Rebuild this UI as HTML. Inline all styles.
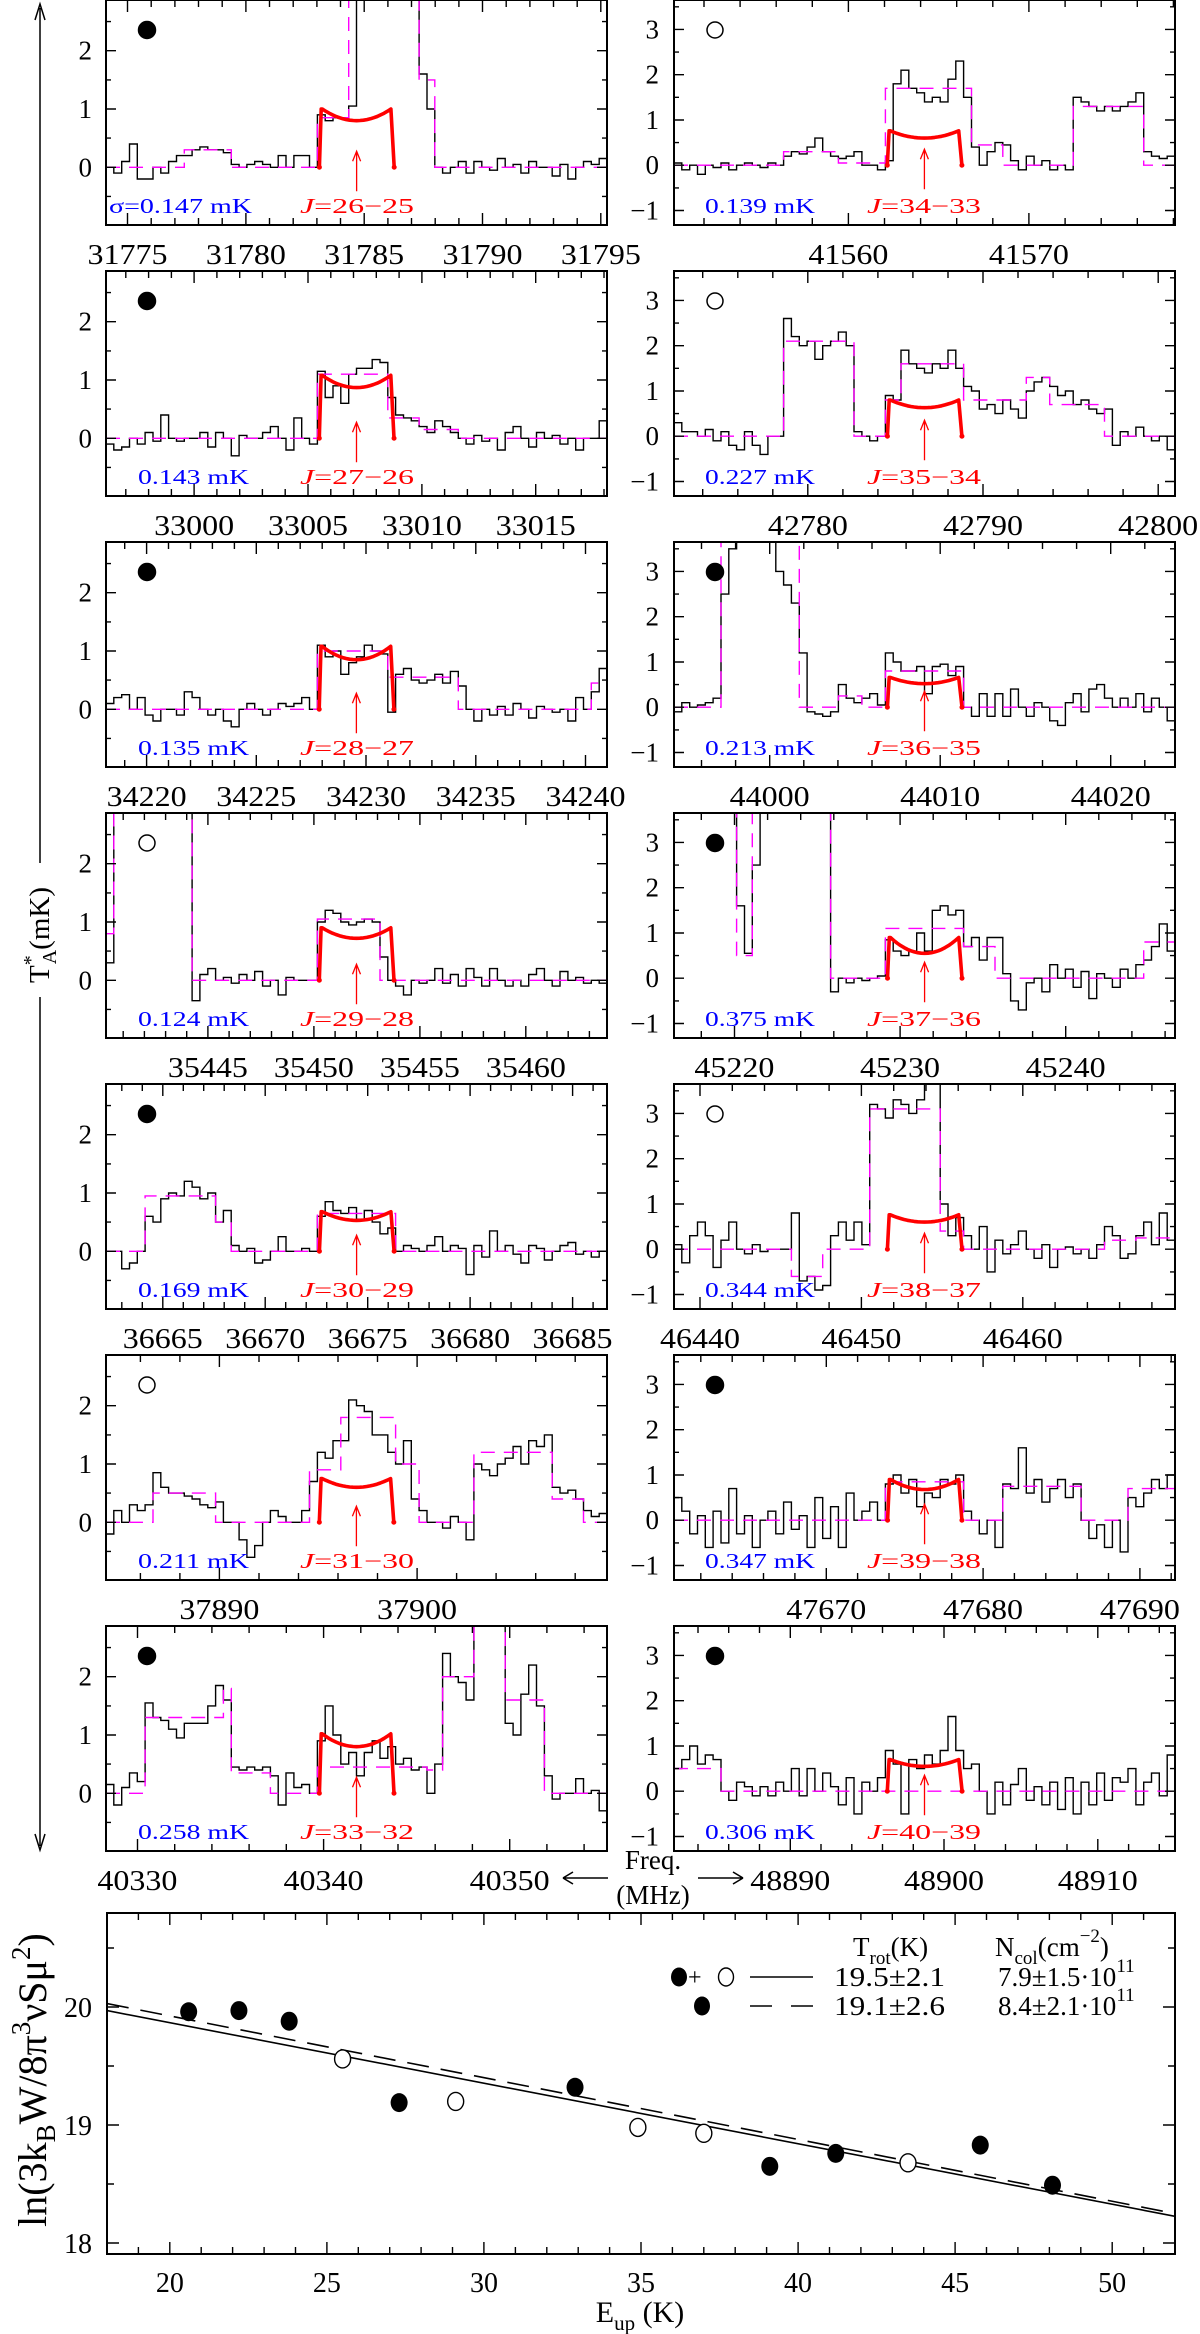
<!DOCTYPE html>
<html><head><meta charset="utf-8"><title>Spectra and rotational diagram</title>
<style>
html,body{margin:0;padding:0;background:#fff;}
svg{display:block;font-family:"Liberation Serif","DejaVu Serif",serif;}
</style></head>
<body>
<svg id="chart" xmlns="http://www.w3.org/2000/svg" width="1200" height="2334" viewBox="0 0 1200 2334">
<rect x="0" y="0" width="1200" height="2334" fill="#fff"/>
</svg>
<script>
// ---------- spectra data (panels L1..L7 then R1..R7) ----------
const panelJ = ["26\u221225","27\u221226","28\u221227","29\u221228","30\u221229","31\u221230","33\u221232",
                "34\u221233","35\u221234","36\u221235","37\u221236","38\u221237","39\u221238","40\u221239"];
const panelSigma = ["\u03c3=0.147 mK","0.143 mK","0.135 mK","0.124 mK","0.169 mK","0.211 mK","0.258 mK",
                    "0.139 mK","0.227 mK","0.213 mK","0.375 mK","0.344 mK","0.347 mK","0.306 mK"];
const panelFilled = [true,true,true,false,true,false,true, false,false,true,true,false,true,true];
const freqLo = [31774.09,32996.13,34218.15,35440.19,36662.23,37884.26,40328.31,
                41550.34,42772.36,43994.39,45216.35,46438.39,47660.29,48882.44];
const freqHi = [31795.26,33018.13,34240.98,35463.83,36686.68,37909.61,40355.23,
                41578.09,42800.96,44023.77,45246.60,46469.43,47692.24,48915.02];
const lineFreq = [31784.68,33007.13,34229.56,35452.01,36674.46,37896.93,40341.77,
                  41564.21,42786.66,44009.08,45231.48,46453.91,47676.27,48898.73];
const tickLabels = [[31775,31780,31785,31790,31795],[33000,33005,33010,33015],[34220,34225,34230,34235,34240],
  [35445,35450,35455,35460],[36665,36670,36675,36680,36685],[37890,37900],[40330,40340,40350],
  [41560,41570],[42780,42790,42800],[44000,44010,44020],[45220,45230,45240],[46440,46450,46460],
  [47670,47680,47690],[48890,48900,48910]];
const modelEdge = [1.0,1.08,1.08,0.9,0.68,0.75,1.02, 0.76,0.8,0.66,0.9,0.76,0.9,0.7];
const modelMid  = [0.8,0.87,0.85,0.72,0.53,0.6,0.8, 0.6,0.63,0.52,0.55,0.6,0.68,0.55];
const vHalf = 14.4; // km/s half width of model

const specL1=[0.0,-0.1,0.1,0.4,-0.2,-0.2,0,-0.1,0.1,0.2,0.2,0.3,0.35,0.3,0.3,0.25,0.05,0.0,0.05,0.1,0.05,0.0,0.2,0.0,0.2,0.2,0.0,
 0.9,0.8,0.85,0.85,1.05,3.5,3.5,3.5,3.5,3.5,3.5,3.5,3.5,1.6,1.0,0.0,
 -0.1,0.0,0.1,-0.1,0.1,0.0,-0.05,0.15,0.0,0.05,-0.1,0.1,0.0,0.0,-0.15,0.05,-0.2,0.0,0.1,0.05,0.15];
const specL2=[-0.1,-0.2,-0.15,0.0,-0.1,0.1,-0.05,0.4,0.0,-0.05,0.0,0.0,0.1,-0.15,0.1,0.0,-0.3,0.05,0.0,0.0,0.1,0.2,0.0,-0.2,0.35,0.0,-0.1,
 1.15,0.7,0.9,0.6,1.1,1.2,1.2,1.35,1.3,0.7,
 0.4,0.35,0.3,0.2,0.1,0.3,0.2,0.1,0.0,-0.1,0.05,-0.05,0.0,-0.2,0.1,0.2,0.0,-0.15,0.1,0.0,0.05,-0.1,0.0,-0.2,0.0,0.0,0.3];
const specL3=[0.1,0.2,0.25,0.0,0.2,-0.1,-0.2,0.0,0.0,-0.1,0.3,0.2,0.0,-0.1,0.0,-0.2,-0.3,0.0,0.1,0.0,-0.1,0.0,0.1,0.05,0.1,0.2,0.0,
 1.1,0.9,1.0,0.6,0.8,0.9,1.1,1.0,0.95,-0.05,
 0.6,0.7,0.5,0.45,0.5,0.6,0.45,0.65,0.4,0.0,-0.2,0.0,-0.1,0.05,-0.1,0.1,0.0,-0.15,0.05,0.0,-0.05,0.0,-0.2,0.2,0.0,0.3,0.7];
const specL4=[0.3,3.5,3.5,3.5,3.5,3.5,3.5,3.5,3.5,3.5,3.5,-0.35,0.1,0.2,0.0,0.05,-0.05,0.1,0.0,0.15,-0.1,0.0,-0.25,0.05,0.0,0.0,0.0,
 1.0,1.2,1.15,1.0,0.95,1.0,1.05,1.0,0.4,0.0,
 -0.1,-0.25,0.0,-0.05,0.0,0.2,-0.05,0.1,-0.1,0.2,0.05,-0.1,0.2,0.0,-0.1,0.0,-0.1,0.1,0.2,0.0,-0.1,0.15,0.0,0.05,-0.05,0.0,-0.05];
const specL5=[0.0,0.0,-0.3,-0.2,0.0,0.6,0.5,0.9,1.0,0.95,1.2,1.1,0.9,1.0,0.5,0.7,0.1,0.0,0.05,-0.2,-0.15,0.0,0.25,0.0,0.0,0.05,0.0,
 0.6,0.85,0.7,0.65,0.75,0.55,0.7,0.5,0.3,0.4,
 0.0,0.1,0.05,0.0,0.1,0.25,0.0,0.1,0.05,-0.4,0.1,-0.1,0.35,0.0,0.1,-0.05,-0.2,0.1,0.05,-0.15,0.0,0.1,0.15,-0.05,0.0,-0.1,0.0];
const specL6=[-0.2,0.2,0.0,0.3,0.2,0.3,0.85,0.6,0.5,0.5,0.45,0.4,0.3,0.25,0.35,0.0,0.0,-0.3,-0.6,-0.4,0.0,0.2,0.1,0.0,0.0,0.2,0.7,
 1.2,1.1,1.4,1.4,2.1,2.0,1.9,1.5,1.5,1.2,
 1.0,1.4,0.4,0.2,0.0,0.0,-0.1,0.1,0.0,-0.3,1.0,0.9,0.8,1.0,1.1,1.3,1.0,1.4,1.3,1.5,0.6,0.5,0.55,0.4,0.2,0.1,0.15];
const specL7=[0.15,-0.2,0.1,0.35,0.2,1.55,1.3,1.25,1.1,0.95,1.2,1.2,1.2,1.5,1.85,1.6,0.45,0.4,0.45,0.4,0.45,0.3,-0.2,0.35,0.1,0.15,0.0,
 0.9,1.5,1.0,0.5,0.7,0.3,0.7,0.9,0.6,0.8,
 0.5,0.6,0.4,0.45,0.0,0.5,2.4,2.0,1.9,1.6,4,4,4,4,1.2,1.0,1.7,2.2,1.5,0.3,-0.1,0.0,0.0,0.25,0.0,0.05,-0.3];
const specR1=[0.05,-0.1,0.0,-0.2,0.0,-0.05,0.05,-0.1,0.0,0.05,0.0,-0.05,0.05,0.0,0.2,0.3,0.25,0.4,0.6,0.3,0.2,0.15,0.2,0.3,0.0,0.0,-0.1,
 0.1,1.8,2.1,1.7,1.6,1.4,1.5,1.4,1.9,2.3,
 1.5,0.4,0.0,0.3,0.5,0.45,0.1,-0.1,0.2,0.0,0.1,-0.1,0.0,-0.1,1.5,1.4,1.3,1.2,1.3,1.2,1.3,1.4,1.6,0.3,0.2,0.15,0.2];
const specR2=[0.3,0.1,0.1,0.0,0.15,-0.1,0.1,-0.2,-0.3,0.1,-0.2,-0.4,0.0,0.0,2.6,2.2,2.0,2.1,1.7,2.0,2.1,2.3,2.0,0.1,0.0,-0.1,0.0,
 0.9,0.8,1.9,1.6,1.5,1.4,1.6,1.5,1.9,1.5,
 1.1,1.0,0.6,0.7,0.5,0.8,0.6,0.4,1.0,1.2,1.3,1.1,0.9,1.0,0.7,0.8,0.6,0.5,0.6,-0.2,0.1,0.0,0.2,0.0,-0.1,0.0,-0.3];
const specR3=[-0.1,0.1,0.0,0.05,0.1,0.2,2.5,3.5,4,4,3.8,4,3.9,3.0,2.7,2.3,1.2,-0.1,-0.15,-0.2,-0.1,0.5,0.2,0.1,0.2,0.3,0.05,
 1.2,1.0,0.8,0.8,0.9,0.3,0.9,0.95,0.7,0.9,
 0.0,-0.2,0.3,-0.2,0.3,-0.2,0.4,0.0,-0.2,0.1,0.0,-0.3,-0.4,0.1,0.3,-0.1,0.4,0.5,0.2,0.0,0.2,0.0,0.3,-0.1,0.2,0.0,-0.3];
const specR4=[4,4,4,4,4,4,4,4,1.6,0.55,2.5,4,4,4,4,4,4,4,4,4,-0.3,0.0,-0.1,0.0,-0.05,0.0,0.05,
 0.85,0.6,0.5,0.6,1.0,0.6,1.5,1.6,1.4,1.5,
 0.7,0.9,0.4,0.9,0.9,0.1,-0.5,-0.7,-0.1,0.0,-0.3,0.3,0.0,0.2,-0.2,0.15,-0.45,0.1,0.0,-0.2,0.2,0.0,0.3,0.4,0.7,1.2,0.6];
const specR5=[0.1,-0.3,0.3,0.6,0.3,-0.4,0.2,0.6,0.0,-0.1,0.1,-0.05,0.0,0.0,0.0,0.8,-0.7,-0.6,-0.9,-0.8,0.3,0.6,0.2,0.6,0.1,3.2,3.1,
 2.9,3.3,3.2,3.0,3.3,4,4,1.0,0.3,0.7,
 0.3,0.0,0.5,-0.5,0.2,-0.1,0.1,0.4,0.0,-0.2,0.1,-0.4,0.0,0.05,-0.1,0.0,-0.2,0.1,0.5,0.3,-0.2,-0.1,0.3,0.6,0.1,0.8,0.2];
const specR6=[0.5,0.2,-0.3,0.1,-0.6,0.2,-0.5,0.7,-0.3,0.1,-0.6,0.0,0.2,-0.3,0.4,-0.2,0.1,-0.6,0.5,-0.4,0.3,-0.6,0.6,0.0,0.2,0.4,0.0,
 0.8,1.0,0.6,0.9,0.3,0.6,0.5,0.9,0.8,1.0,
 0.2,0.0,-0.3,0.0,-0.6,0.8,0.7,1.6,0.6,0.9,0.4,0.7,0.9,0.5,0.8,0.0,-0.4,-0.1,-0.6,0.0,-0.7,0.5,0.3,0.6,0.9,0.7,1.0];
const specR7=[0.5,0.7,1.0,0.6,0.8,0.7,0.0,-0.2,0.2,0.1,-0.1,0.1,-0.1,0.2,0.0,0.5,-0.1,0.5,0.0,0.4,0.1,-0.3,0.3,-0.5,0.2,0.0,0.3,
 0.9,0.6,-0.5,0.7,0.5,0.8,0.6,0.9,1.65,0.9,
 0.5,0.6,0.0,-0.5,0.2,-0.3,0.15,0.5,-0.2,0.1,-0.3,0.2,-0.4,0.3,-0.5,0.2,-0.3,0.4,-0.2,0.3,0.2,0.5,-0.3,0.2,0.4,-0.1,0.8];
const spectra=[specL1,specL2,specL3,specL4,specL5,specL6,specL7,specR1,specR2,specR3,specR4,specR5,specR6,specR7];

// magenta fit: [startChannel, endChannel, level]
const fitL1=[[0,10,0],[10,16,0.3],[16,27,0],[27,31,0.85],[31,40,4],[40,42,1.5],[42,64,0]];
const fitL2=[[0,27,0],[27,36,1.1],[36,40,0.35],[40,45,0.15],[45,64,0]];
const fitL3=[[0,27,0],[27,36,1.0],[36,45,0.55],[45,62,0],[62,64,0.45]];
const fitL4=[[0,1,0.8],[1,11,4],[11,27,0],[27,35,1.05],[35,64,0]];
const fitL5=[[0,5,0],[5,14,0.95],[14,16,0.5],[16,27,0],[27,37,0.65],[37,64,0]];
const fitL6=[[0,6,0],[6,14,0.5],[14,26,0],[26,30,0.9],[30,37,1.8],[37,40,1.0],[40,47,0],[47,57,1.2],[57,61,0.4],[61,64,0]];
const fitL7=[[0,5,0],[5,15,1.3],[15,16,1.8],[16,21,0.35],[21,27,0],[27,41,0.45],[41,43,0.4],[43,47,2.0],[47,51,4],[51,56,1.6],[56,64,0]];
const fitR1=[[0,14,0],[14,21,0.3],[21,27,0.05],[27,38,1.7],[38,42,0.45],[42,51,0],[51,60,1.3],[60,64,0]];
const fitR2=[[0,14,0],[14,23,2.1],[23,27,0],[27,29,0.8],[29,37,1.6],[37,45,0.8],[45,48,1.3],[48,55,0.7],[55,64,0]];
const fitR3=[[0,6,0],[6,16,3.7],[16,21,0],[21,24,0.25],[24,27,0],[27,37,0.8],[37,64,0]];
const fitR4=[[0,8,4],[8,10,0.5],[10,20,4],[20,27,0],[27,37,1.1],[37,41,0.7],[41,60,0],[60,64,0.8]];
const fitR5=[[0,15,0],[15,19,-0.6],[19,25,0],[25,34,3.1],[34,37,0.4],[37,55,0],[55,59,0.2],[59,64,0.25]];
const fitR6=[[0,27,0],[27,37,0.85],[37,42,0],[42,52,0.75],[52,58,0],[58,64,0.7]];
const fitR7=[[0,6,0.5],[6,64,0]];
const fits=[fitL1,fitL2,fitL3,fitL4,fitL5,fitL6,fitL7,fitR1,fitR2,fitR3,fitR4,fitR5,fitR6,fitR7];

// ---------- rotational diagram data ----------
const filledE=[20.6,22.2,23.8,27.3,32.9,39.1,41.2,45.8,48.1];
const filledLn=[19.96,19.97,19.88,19.19,19.32,18.65,18.76,18.83,18.49];
const openE=[25.5,29.1,34.9,37.0,43.5];
const openLn=[19.56,19.20,18.98,18.93,18.68];
const fitTrot=[19.5,19.1];
const fitIntercept=[20.893,20.972];
const rdXTicks=[20,25,30,35,40,45,50];
const rdYTicks=[18,19,20];

const NS="http://www.w3.org/2000/svg";
const svg=document.getElementById('chart');
function el(tag,attrs,parent){const e=document.createElementNS(NS,tag);for(const k in attrs)e.setAttribute(k,attrs[k]);(parent||svg).appendChild(e);return e;}
function txt(str,attrs,parent){const e=el('text',attrs,parent);e.textContent=str;return e;}

const PW=501, PH=225, colX=[106,674], rowStep=271;
const defs=el('defs',{});

for(let p=0;p<14;p++){
  const col=p<7?0:1, row=p%7;
  const X0=colX[col], Y0=row*rowStep;
  const yLo=col?-1.32:-0.99, yHi=col?3.65:2.87;
  const fLo=freqLo[p], fHi=freqHi[p];
  const xs=f=>X0+(f-fLo)/(fHi-fLo)*PW;
  const ys=v=>Y0+(yHi-v)/(yHi-yLo)*PH;
  const g=el('g',{});
  
  
  const cp=el('clipPath',{id:'cp'+p},defs);
  el('rect',{x:X0,y:Y0,width:PW,height:PH},cp);

  // spectrum histogram
  const vals=spectra[p], n=vals.length, df=(fHi-fLo)/n;
  let d='M'+xs(fLo).toFixed(1)+','+ys(vals[0]).toFixed(1);
  for(let i=0;i<n;i++){
    d+='H'+xs(fLo+(i+1)*df).toFixed(1);
    if(i<n-1) d+='V'+ys(vals[i+1]).toFixed(1);
  }
  const sp=el('path',{d:d,fill:'none',stroke:'#000','stroke-width':1.4,'clip-path':'url(#cp'+p+')'},g);
  
  

  // magenta fit
  let dm='';
  fits[p].forEach((s,j)=>{
    const xa=xs(fLo+s[0]*df).toFixed(1), xb=xs(fLo+s[1]*df).toFixed(1), y=ys(s[2]).toFixed(1);
    dm+=(j===0?'M':'L')+xa+','+y+'H'+xb;
  });
  const fp=el('path',{d:dm,fill:'none',stroke:'#ff00ff','stroke-width':1.4,'stroke-dasharray':'14,9','clip-path':'url(#cp'+p+')'},g);
  
  

  // red model
  const c=lineFreq[p], hw=c*vHalf/299792.458, e=modelEdge[p], m=modelMid[p];
  let dr='M'+xs(c-hw*1.03).toFixed(1)+','+ys(0).toFixed(1)+'L'+xs(c-hw*0.98).toFixed(1)+','+ys(e).toFixed(1);
  for(let k=-10;k<=10;k++){const t=k/10*0.95; dr+='L'+xs(c+t*hw).toFixed(1)+','+ys(m+(e-m)*t*t/0.9025).toFixed(1);}
  dr+='L'+xs(c+hw*1.04).toFixed(1)+','+ys(0).toFixed(1);
  const rp=el('path',{d:dr,fill:'none',stroke:'#ff0000','stroke-width':3.6,'stroke-linejoin':'round'},g);
  
  
  el('circle',{cx:xs(c-hw*1.03),cy:ys(0),r:2.5,fill:'#f00'},g);
  el('circle',{cx:xs(c+hw*1.04),cy:ys(0),r:2.5,fill:'#f00'},g);

  // arrow
  const ax=xs(c), ay=ys(0);
  const ar=el('path',{d:'M'+ax+','+(ay+24)+'V'+(ay-15)+'M'+(ax-4)+','+(ay-6)+'L'+ax+','+(ay-16)+'L'+(ax+4)+','+(ay-6),fill:'none',stroke:'#f00','stroke-width':1.3},g);
  
  

  // frame
  el('rect',{x:X0,y:Y0,width:PW,height:PH,fill:'none',stroke:'#000','stroke-width':2},g);
  // y ticks
  let dt='';
  for(let v=Math.ceil(yLo*2)/2; v<=yHi; v+=0.5){
    const major=Math.abs(v-Math.round(v))<1e-6, L=major?10:5, y=ys(v).toFixed(1);
    dt+='M'+X0+','+y+'h'+L+'M'+(X0+PW)+','+y+'h'+(-L);
  }
  const minorStep=(tickLabels[p][1]-tickLabels[p][0])===5?1:2, majorStep=minorStep*5;
  for(let f=Math.ceil(fLo/minorStep)*minorStep; f<=fHi; f+=minorStep){
    const major=(Math.round(f)%majorStep)===0, L=major?12:7, x=xs(f).toFixed(1);
    dt+='M'+x+','+(Y0+PH)+'v'+(-L)+'M'+x+','+Y0+'v'+L;
  }
  el('path',{d:dt,fill:'none',stroke:'#000','stroke-width':1.4},g);
  // y tick labels
  const ylabs=col?[-1,0,1,2,3]:[0,1,2];
  ylabs.forEach(v=>{
    const t=txt(v<0?'\u22121':String(v),{x:col?659:92,y:ys(v)+9,'text-anchor':'end','font-size':27},g);
    
    
  });
  // x tick labels
  tickLabels[p].forEach(f=>{
    const t=txt(String(f),{x:xs(f),y:Y0+264,'text-anchor':'middle','font-size':28,textLength:80,lengthAdjust:'spacingAndGlyphs'},g);
    
    
  });
  // marker
  const mk=el('circle',{cx:X0+41,cy:Y0+30,r:panelFilled[p]?8.5:8,fill:panelFilled[p]?'#000':'none',stroke:'#000','stroke-width':1.5},g);
  
  
  // sigma label
  const sx=col?705:(p===0?109:138), sw=col?110:(p===0?143:111);
  const st=txt(panelSigma[p],{x:sx,y:Y0+213,fill:'#0000ff','font-size':21,textLength:sw,lengthAdjust:'spacingAndGlyphs'},g);
  
  
  // J label
  const jt=el('text',{x:col?867:300,y:Y0+213,fill:'#ff0000','font-size':21,textLength:114,lengthAdjust:'spacingAndGlyphs'},g);
  
  
  const j1=el('tspan',{'font-style':'italic'},jt); j1.textContent='J';
  const j2=el('tspan',{},jt); j2.textContent='='+panelJ[p];
}

// big y axis arrow + label
const yax=el('path',{d:'M40,8V863M40,997V1846M35,20L40,4L45,20M35,1834L40,1850L45,1834',fill:'none',stroke:'#000','stroke-width':1.5});


const ylab=el('text',{x:0,y:0,transform:'translate(49,935) rotate(-90)','text-anchor':'middle','font-size':29});


(function(){const a=el('tspan',{},ylab);a.textContent='T';const b=el('tspan',{dy:-12,'font-size':20},ylab);b.textContent='*';
const c=el('tspan',{dx:-9,dy:19,'font-size':20},ylab);c.textContent='A';const d=el('tspan',{dy:-7},ylab);d.textContent='(mK)';})();

// freq label
const fq=txt('Freq.',{x:653,y:1869,'text-anchor':'middle','font-size':27});


const fu=txt('(MHz)',{x:653,y:1904,'text-anchor':'middle','font-size':27});


const fa=el('path',{d:'M563,1878H608M563,1878l10,-6M563,1878l10,6M698,1878H743M743,1878l-10,-6M743,1878l-10,6',fill:'none',stroke:'#000','stroke-width':1.6});



// ---------- rotational diagram ----------
const RX0=107, RX1=1175, RY0=1913, RY1=2254, EMIN=18, EMAX=52, LMIN=17.907, LMAX=20.797;
const ex=E=>RX0+(E-EMIN)/(EMAX-EMIN)*(RX1-RX0);
const ly=v=>RY0+(LMAX-v)/(LMAX-LMIN)*(RY1-RY0);
const rg=el('g',{});


const rcp=el('clipPath',{id:'rcp'},defs);
el('rect',{x:RX0,y:RY0,width:RX1-RX0,height:RY1-RY0},rcp);
fitTrot.forEach((T,i)=>{
  const l=el('line',{x1:ex(EMIN),y1:ly(fitIntercept[i]-EMIN/T),x2:ex(EMAX),y2:ly(fitIntercept[i]-EMAX/T),stroke:'#000','stroke-width':1.6,'stroke-dasharray':i?'22,12':'none','clip-path':'url(#rcp)'},rg);
  
  
});
filledE.forEach((E,i)=>{
  const c=el('ellipse',{cx:ex(E),cy:ly(filledLn[i]),rx:8.5,ry:9.5,fill:'#000'},rg);
  
  
});
openE.forEach((E,i)=>{
  const c=el('ellipse',{cx:ex(E),cy:ly(openLn[i]),rx:8,ry:9,fill:'#fff',stroke:'#000','stroke-width':1.4},rg);
  
  
});
el('rect',{x:RX0,y:RY0,width:RX1-RX0,height:RY1-RY0,fill:'none',stroke:'#000','stroke-width':2},rg);
let rt='';
for(let E=EMIN;E<=EMAX;E++){const L=E%5===0?12:7,x=ex(E).toFixed(1);rt+='M'+x+','+RY1+'v'+(-L)+'M'+x+','+RY0+'v'+L;}
for(let v=18;v<=20.5;v+=0.5){const L=v%1===0?12:7,y=ly(v).toFixed(1);rt+='M'+RX0+','+y+'h'+L+'M'+RX1+','+y+'h'+(-L);}
el('path',{d:rt,fill:'none',stroke:'#000','stroke-width':1.4},rg);
rdXTicks.forEach(E=>{const t=txt(String(E),{x:ex(E),y:2292,'text-anchor':'middle','font-size':28},rg);
  });
rdYTicks.forEach(v=>{const t=txt(String(v),{x:92,y:ly(v)+10,'text-anchor':'end','font-size':28},rg);
  });
const ext=el('text',{x:640,y:2322,'text-anchor':'middle','font-size':30});


(function(){const a=el('tspan',{},ext);a.textContent='E';const b=el('tspan',{dy:8,'font-size':21},ext);b.textContent='up';const c=el('tspan',{dy:-8},ext);c.textContent=' (K)';})();
const eyt=el('text',{x:0,y:0,transform:'translate(46,2080) rotate(-90)','text-anchor':'middle','font-size':40});


(function(){
  const parts=[['ln(3k',0,null],['B',9,27],['W/8\u03c0',-9,null],['3',-16,27],['\u03bdS\u03bc',16,null],['2',-16,27],[')',16,null]];
  parts.forEach(q=>{const t=el('tspan',{dy:q[1]},eyt);if(q[2])t.setAttribute('font-size',q[2]);t.textContent=q[0];});
})();

// legend
const lg=el('g',{});


const h1=el('text',{x:853,y:1956,'font-size':27},lg);
(function(){const a=el('tspan',{},h1);a.textContent='T';const b=el('tspan',{dy:8,'font-size':19},h1);b.textContent='rot';const c=el('tspan',{dy:-8},h1);c.textContent='(K)';})();
const h2=el('text',{x:995,y:1956,'font-size':27},lg);
(function(){const a=el('tspan',{},h2);a.textContent='N';const b=el('tspan',{dy:8,'font-size':19},h2);b.textContent='col';const c=el('tspan',{dy:-8},h2);c.textContent='(cm';
const d=el('tspan',{dy:-14,'font-size':19},h2);d.textContent='\u22122';const e=el('tspan',{dy:14},h2);e.textContent=')';})();
const le1=el('g',{},lg);


el('ellipse',{cx:679,cy:1977,rx:8,ry:9.5,fill:'#000'},le1);
txt('+',{x:688,y:1985,'font-size':24},le1);
el('ellipse',{cx:726,cy:1977,rx:7.5,ry:9,fill:'#fff',stroke:'#000','stroke-width':1.4},le1);
el('line',{x1:750,y1:1977,x2:813,y2:1977,stroke:'#000','stroke-width':1.6},le1);
txt('19.5\u00b12.1',{x:834,y:1986,'font-size':27,textLength:111,lengthAdjust:'spacingAndGlyphs'},le1);
const n1=el('text',{x:998,y:1986,'font-size':27},le1);
(function(){const a=el('tspan',{},n1);a.textContent='7.9\u00b11.5\u00b710';const b=el('tspan',{dy:-14,'font-size':19},n1);b.textContent='11';})();
const le2=el('g',{},lg);


el('ellipse',{cx:702,cy:2006,rx:8,ry:9.5,fill:'#000'},le2);
el('line',{x1:750,y1:2006,x2:813,y2:2006,stroke:'#000','stroke-width':1.6,'stroke-dasharray':'22,19'},le2);
txt('19.1\u00b12.6',{x:834,y:2015,'font-size':27,textLength:111,lengthAdjust:'spacingAndGlyphs'},le2);
const n2=el('text',{x:998,y:2015,'font-size':27},le2);
(function(){const a=el('tspan',{},n2);a.textContent='8.4\u00b12.1\u00b710';const b=el('tspan',{dy:-14,'font-size':19},n2);b.textContent='11';})();
</script>
</body></html>
